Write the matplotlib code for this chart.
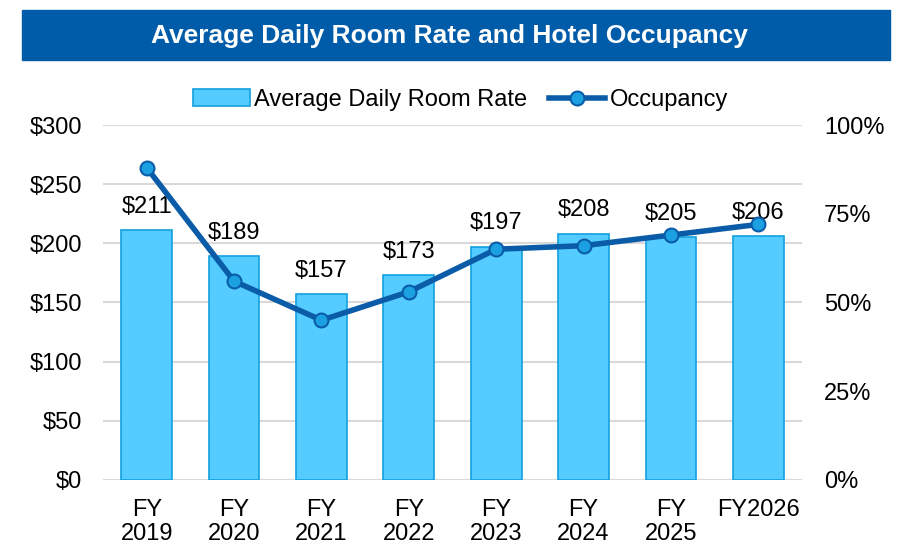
import matplotlib.pyplot as plt
from matplotlib.patches import Rectangle

plt.rcParams['font.family'] = ['Liberation Sans', 'DejaVu Sans']

years = ["FY\n2019", "FY\n2020", "FY\n2021", "FY\n2022", "FY\n2023", "FY\n2024", "FY\n2025", "FY2026"]
rate = [211, 189, 157, 173, 197, 208, 205, 206]
occupancy = [88, 56, 45, 53, 65, 66, 69, 72]

fig = plt.figure(figsize=(8.98, 5.46), dpi=100)
ax = fig.add_axes([103 / 898, 0.121, 699 / 898, 0.650])
ax2 = ax.twinx()

# title banner
fig.patches.append(Rectangle((22 / 898, 1 - 60 / 546), 868 / 898, 50 / 546,
                             transform=fig.transFigure, color="#005BA8", zorder=0))
fig.text(0.5, 1 - 36 / 546, "Average Daily Room Rate and Hotel Occupancy",
         ha="center", va="center", color="white", fontsize=19, fontweight="bold")

x = range(len(years))
bars = ax.bar(x, rate, width=0.58, color="#55CCFF", edgecolor="#12A0DE",
              linewidth=1.2, zorder=2, label="Average Daily Room Rate")
for i, v in enumerate(rate):
    ax.annotate(f"${v}", (i, v), xytext=(0, 9), textcoords="offset points",
                ha="center", va="bottom", fontsize=17)

line, = ax2.plot(x, occupancy, color="#0B5CA8", linewidth=4, marker="o",
                 markersize=10, markerfacecolor="#1BA1E2", markeredgecolor="#0B5CA8",
                 markeredgewidth=1.5, zorder=3, label="Occupancy")

ax.set_xlim(-0.5, 7.5)
ax.set_ylim(0, 300)
ax.set_yticks(range(0, 301, 50))
ax.set_yticklabels([f"${t}" for t in range(0, 301, 50)])
ax2.set_ylim(0, 100)
ax2.set_yticks(range(0, 101, 25))
ax2.set_yticklabels([f"{t}%" for t in range(0, 101, 25)])
ax.set_xticks(list(x))
ax.set_xticklabels(years, linespacing=1.12)

ax.grid(axis="y", color="#D9D9D9", linewidth=1.5, zorder=0)
ax.set_axisbelow(True)
for a in (ax, ax2):
    for s in a.spines.values():
        s.set_visible(False)
    a.tick_params(length=0, labelsize=17)
ax.tick_params(axis="y", pad=15)
ax.tick_params(axis="x", pad=14)
ax2.tick_params(pad=16)

fig.legend([bars, line], ["Average Daily Room Rate", "Occupancy"], loc="center",
           bbox_to_anchor=(0.513, 1 - 100 / 546), ncol=2, frameon=False,
           fontsize=17, handlelength=2.4, handletextpad=0.2, columnspacing=0.9)

fig.savefig("out.png", dpi=100)
